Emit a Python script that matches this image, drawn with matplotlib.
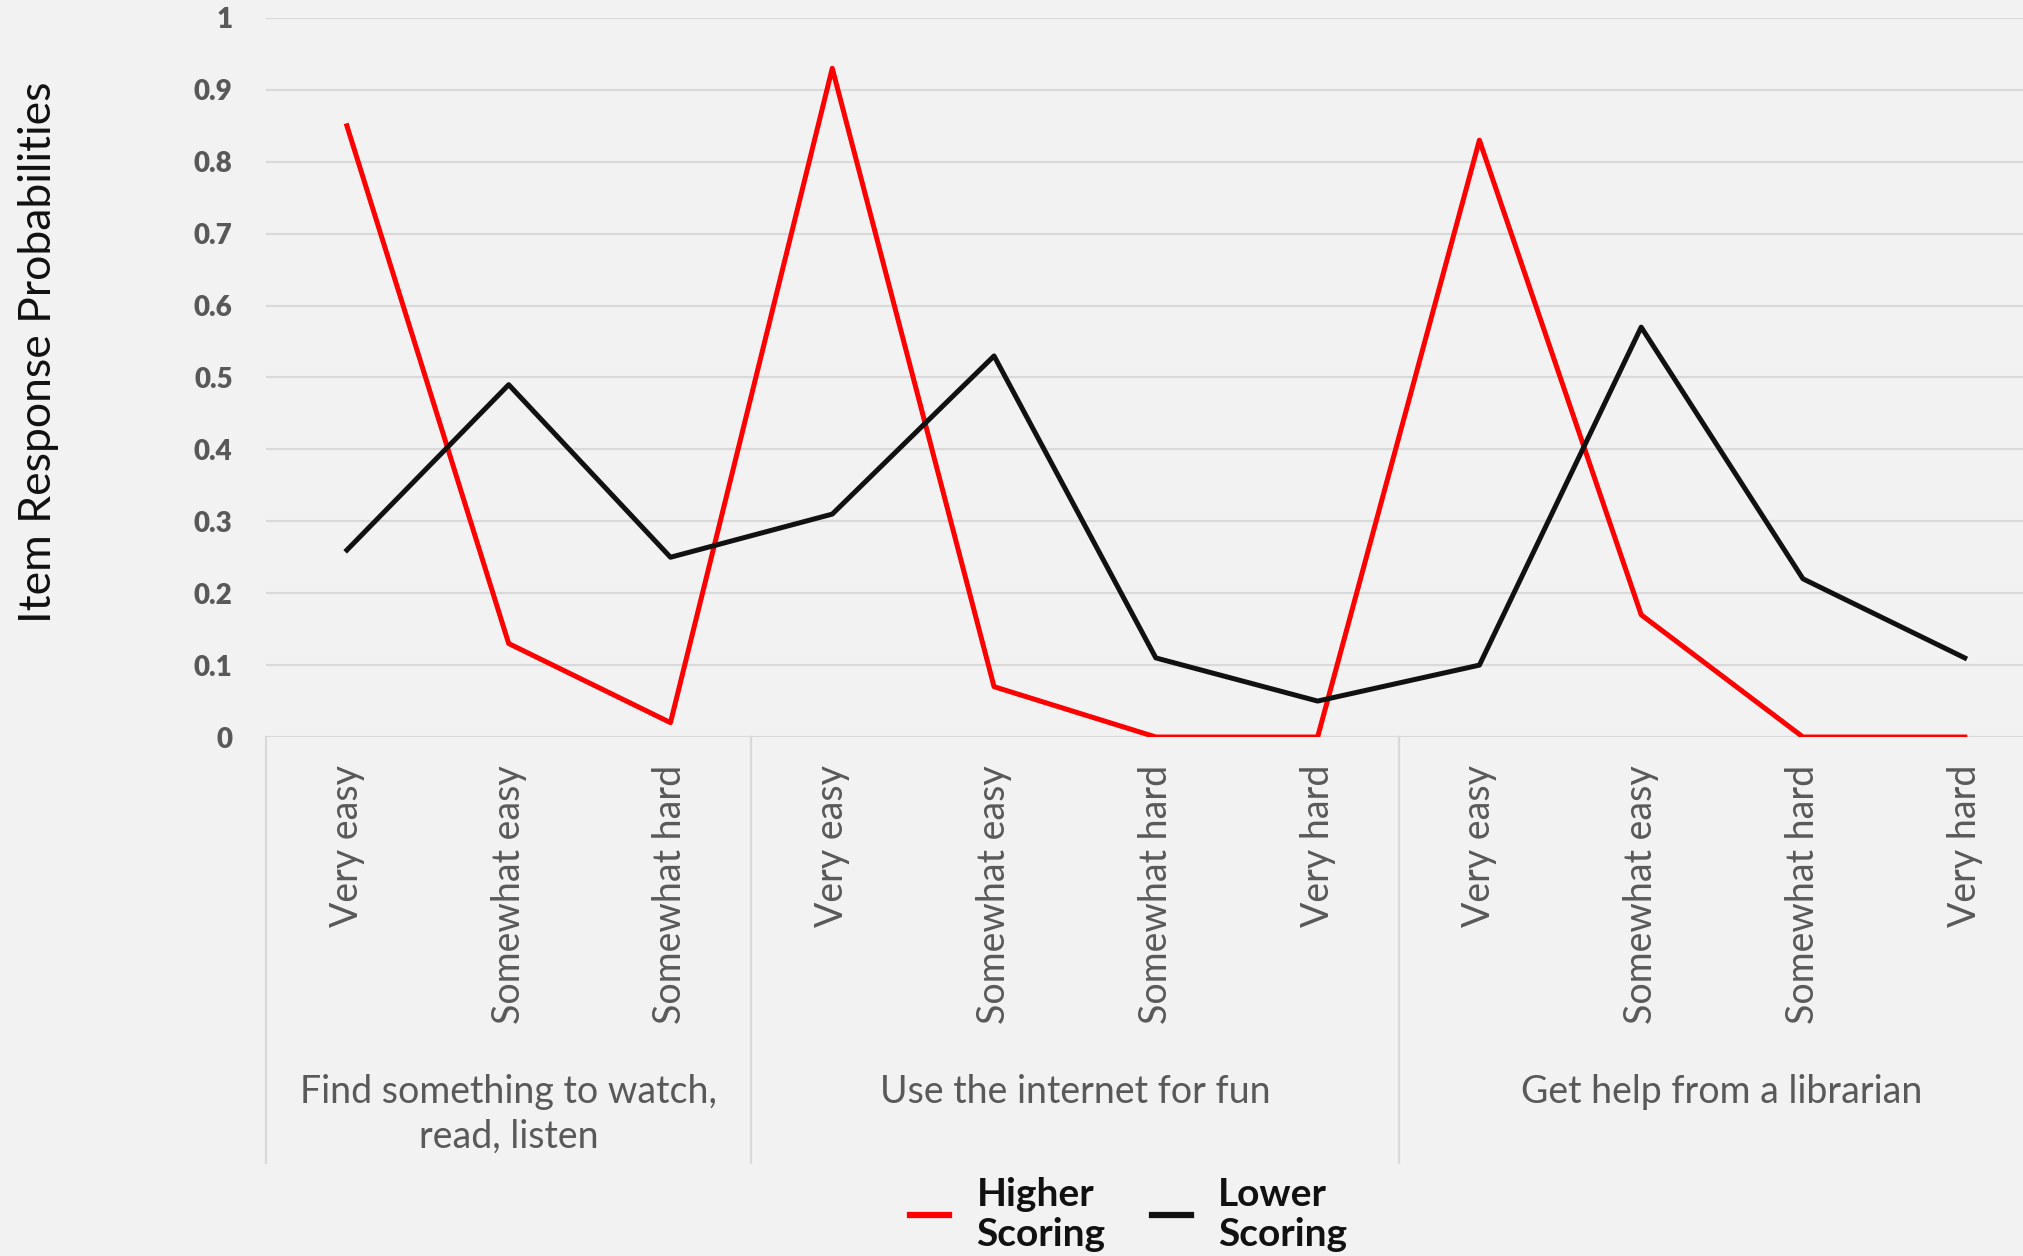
import matplotlib
matplotlib.use("Agg")
import matplotlib.pyplot as plt
import matplotlib.transforms as mtransforms

# response options along the x axis, grouped by survey item
options = ["Very easy", "Somewhat easy", "Somewhat hard",
           "Very easy", "Somewhat easy", "Somewhat hard", "Very hard",
           "Very easy", "Somewhat easy", "Somewhat hard", "Very hard"]
groups = ["Find something to watch,\nread, listen",
          "Use the internet for fun",
          "Get help from a librarian"]
group_sizes = [3, 4, 4]

higher_scoring = [0.85, 0.13, 0.02, 0.93, 0.07, 0.0, 0.0, 0.83, 0.17, 0.0, 0.0]
lower_scoring = [0.26, 0.49, 0.25, 0.31, 0.53, 0.11, 0.05, 0.10, 0.57, 0.22, 0.11]

yticks = [0, 0.1, 0.2, 0.3, 0.4, 0.5, 0.6, 0.7, 0.8, 0.9, 1]
ytick_labels = ["0", "0.1", "0.2", "0.3", "0.4", "0.5", "0.6", "0.7", "0.8", "0.9", "1"]

bg = "#f2f2f2"
grid_c = "#d9d9d9"
text_c = "#595959"

plt.rcParams["font.family"] = ["Lato", "DejaVu Sans"]

fig = plt.figure(figsize=(20.23, 12.56), dpi=100, facecolor=bg)
ax = fig.add_axes([0.1315, 0.4132, 0.8685, 0.5725], facecolor=bg)

x = list(range(len(options)))
ax.plot(x, higher_scoring, color="#ff0000", lw=3.6, label="Higher\nScoring", zorder=3)
ax.plot(x, lower_scoring, color="#111111", lw=3.6, label="Lower\nScoring", zorder=3)

ax.set_xlim(-0.5, 10.36)
ax.set_ylim(0, 1)
ax.set_yticks(yticks)
ax.set_yticklabels(ytick_labels, fontsize=20, fontweight="heavy", color=text_c)
ax.yaxis.grid(True, color=grid_c, lw=1.6)
ax.set_axisbelow(True)
ax.tick_params(axis="y", length=0, pad=24)

ax.set_xticks(x)
ax.set_xticklabels(options, rotation=90, fontsize=27, color=text_c, va="top")
ax.tick_params(axis="x", length=0, pad=20)

for s in ax.spines.values():
    s.set_visible(False)

ax.set_ylabel("Item Response Probabilities", fontsize=32, color="#111111")
ax.yaxis.set_label_coords(-0.118, 0.535)

# group separators and group labels under the category axis
trans = mtransforms.blended_transform_factory(ax.transData, ax.transAxes)
edges = [-0.5]
for n in group_sizes:
    edges.append(edges[-1] + n)
for e in edges[:-1]:
    ax.plot([e, e], [0, -0.592], transform=trans, color=grid_c, lw=1.6, clip_on=False)

start = -0.5
for g, n in zip(groups, group_sizes):
    ax.text(start + n / 2, -0.468, g, transform=trans, ha="center", va="top",
            fontsize=27, color=text_c, linespacing=1.3)
    start += n

leg = fig.legend(loc="center", bbox_to_anchor=(0.558, 0.033), ncol=2, frameon=False,
                 handlelength=1.0, handletextpad=0.7, columnspacing=1.2,
                 prop={"size": 28, "weight": "bold"})
for t in leg.get_texts():
    t.set_color("#111111")
    t.set_linespacing(1.2)
for h in leg.get_lines():
    h.set_linewidth(4.5)

fig.savefig("out.png", dpi=100, facecolor=bg)
